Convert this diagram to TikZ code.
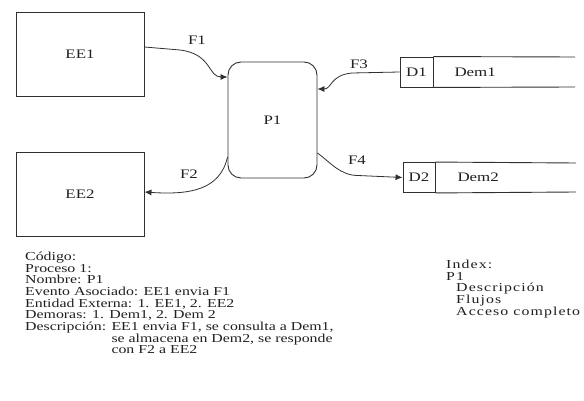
\documentclass[tikz,border=0pt]{standalone}
\usepackage{fontspec}
\setmainfont{Liberation Serif}[FakeStretch=1.3]
\newfontfamily\indexfont{Liberation Serif}[FakeStretch=1.3, LetterSpace=9]
\usetikzlibrary{arrows.meta}
\definecolor{ink}{HTML}{202024}
\definecolor{edge}{HTML}{303030}
\tikzset{
  entity/.style={draw=edge, line width=0.9pt, minimum width=128pt, minimum height=84pt, inner sep=0pt},
  process/.style={draw=edge, line width=0.9pt, rounded corners=13pt, minimum width=89pt, minimum height=116pt, inner sep=0pt},
  storeid/.style={draw=edge, line width=0.9pt, minimum height=30pt, inner sep=0pt},
  flow/.style={draw=edge, line width=0.8pt, -{Latex[length=7pt,width=6pt]}},
  lbl/.style={font=\fontsize{13}{14}\selectfont, text=ink},
  info/.style={font=\fontsize{12.2}{11.65}\selectfont, text=ink, align=left, inner sep=0pt},
}
\begin{document}
\begin{tikzpicture}[x=1pt,y=-1pt]
  \useasboundingbox (0,0) rectangle (584,401);

  % external entities
  \node[entity, lbl] (ee1) at (80,54) {EE1};
  \node[entity, lbl] (ee2) at (80,194.5) {EE2};

  % process
  \node[process, lbl] (p1) at (272.5,120) {P1};

  % data stores: id cell plus open-ended band
  \node[storeid, minimum width=33pt, lbl] (d1) at (416.5,72) {D1};
  \draw[edge, line width=0.9pt] (d1.north east) -- (575,57);
  \draw[edge, line width=0.9pt] (d1.south east) -- (575,87);
  \node[lbl, anchor=west] (dem1) at (451,72) {Dem1};

  \node[storeid, minimum width=32pt, lbl] (d2) at (419,177.5) {D2};
  \draw[edge, line width=0.9pt] (d2.north east) -- (576,163);
  \draw[edge, line width=0.9pt] (d2.south east) -- (576,192);
  \node[lbl, anchor=west] (dem2) at (454,177) {Dem2};

  % flows
  \coordinate (f1a) at (180,50);
  \draw[flow] (ee1.east |- 0,47) -- (f1a) .. controls (212,54) and (208,77) .. (p1.west |- 0,77);
  \node[lbl] (f1) at (197,40) {F1};

  \draw[flow] (p1.west |- 0,157) .. controls (220,190) and (190,195) .. (ee2.east |- 0,192);
  \node[lbl] (f2) at (189,174) {F2};

  \coordinate (f3a) at (352,73);
  \draw[flow] (d1.west) -- (f3a) .. controls (330,75) and (332,89) .. (p1.east |- 0,89);
  \node[lbl] (f3) at (359,64) {F3};

  \coordinate (f4a) at (358,175.5);
  \draw[flow] (p1.east |- 0,153) .. controls (330,162) and (340,175.5) .. (f4a) -- (d2.west);
  \node[lbl] (f4) at (357,160) {F4};

  % process description
  \node[info, anchor=north west] (desc) at (25,252) {%
    Código:\\
    Proceso 1:\\
    Nombre: P1\\
    Evento Asociado: EE1 envia F1\\
    Entidad Externa: 1. EE1, 2. EE2\\
    Demoras: 1. Dem1, 2. Dem 2\\
    Descripción: EE1 envia F1, se consulta a Dem1,\\
    \hphantom{Descripción: }se almacena en Dem2, se responde\\
    \hphantom{Descripción: }con F2 a EE2};

  % index
  \node[info, font=\indexfont\fontsize{12.2}{11.65}\selectfont, anchor=north west] (index) at (446,260) {%
    Index:\\
    P1\\
    \hspace*{10pt}Descripción\\
    \hspace*{10pt}Flujos\\
    \hspace*{10pt}Acceso completo};
\end{tikzpicture}
\end{document}
